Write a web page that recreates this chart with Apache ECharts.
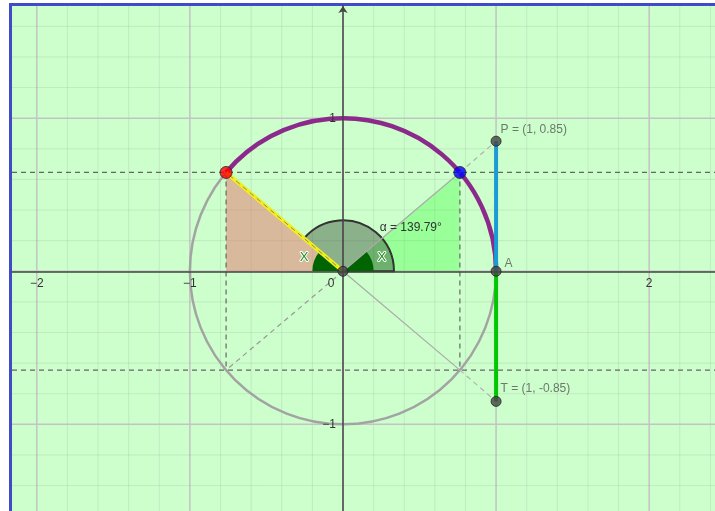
<!DOCTYPE html>
<html>
<head>
<meta charset="utf-8">
<script src="https://cdn.jsdelivr.net/npm/echarts@6/dist/echarts.min.js"></script>
<style>
html, body { margin: 0; padding: 0; background: #fff; }
#main { width: 715px; height: 511px; }
</style>
</head>
<body>
<div id="main"></div>
<script>
// 角 α（度）
var alphaDeg = 139.79;
// 点：O, A, P, T, 红点, 蓝点
var pointNames = ['O', 'A', 'P', 'T', 'M', 'N'];
var pointX = [0, 1, 1, 1, -0.7636, 0.7636];
var pointY = [0, 0, 0.85, -0.85, 0.6456, 0.6456];
var pointLabels = ['', 'A', 'P = (1, 0.85)', 'T = (1, -0.85)', '', ''];
// 坐标轴刻度
var xTickValues = [-2, -1, 0, 2];
var xTickLabels = ['\u22122', '\u22121', '0', '2'];
var yTickValues = [1, -1];
var yTickLabels = ['1', '\u22121'];

// 视图范围（1 单位 = 153 像素）
var xMin = -2.162, xMax = 2.43, yMin = -1.566, yMax = 1.733;
var minorStep = 0.2;

var pointColors = ['#444', '#444', '#444', '#444', '#ff0000', '#0000ff'];
var pointSizes = [10, 10, 10, 10, 12, 12];
var font = 'Liberation Sans, Arial, sans-serif';

var chart = echarts.init(document.getElementById('main'));

function pt(i) { return [pointX[i], pointY[i]]; }
var O = pt(0), A = pt(1), P = pt(2), T = pt(3), M = pt(4), N = pt(5);
var M2 = [M[0], -M[1]], N2 = [N[0], -N[1]];
var a = alphaDeg * Math.PI / 180;

function seg(api, p, q, style) {
    var p1 = api.coord(p), p2 = api.coord(q);
    return { type: 'line', shape: { x1: p1[0], y1: p1[1], x2: p2[0], y2: p2[1] }, style: style };
}
function poly(api, pts, style) {
    return { type: 'polygon', shape: { points: pts.map(function (p) { return api.coord(p); }) }, style: style };
}

// 网格
function renderGrid(params, api) {
    var children = [];
    var major = { stroke: '#c3c3c3', lineWidth: 1.5 };
    var minor = { stroke: 'rgba(150,150,150,0.2)', lineWidth: 1 };
    for (var i = Math.ceil(xMin / minorStep); i * minorStep <= xMax; i++) {
        var v = i * minorStep;
        children.push(seg(api, [v, yMin], [v, yMax], i % 5 === 0 ? major : minor));
    }
    for (var j = Math.ceil(yMin / minorStep); j * minorStep <= yMax; j++) {
        var w = j * minorStep;
        children.push(seg(api, [xMin, w], [xMax, w], j % 5 === 0 ? major : minor));
    }
    return { type: 'group', children: children };
}

// 三角形和虚线
function renderFills(params, api) {
    var dash = { stroke: '#666', lineWidth: 1.2, lineDash: [5, 4] };
    return { type: 'group', children: [
        poly(api, [O, [M[0], 0], M], { fill: 'rgba(230,115,106,0.5)' }),
        poly(api, [O, [N[0], 0], N], { fill: 'rgba(0,255,0,0.25)' }),
        seg(api, [xMin, M[1]], [xMax, M[1]], dash),
        seg(api, [xMin, -M[1]], [xMax, -M[1]], dash),
        seg(api, M, M2, dash),
        seg(api, N, N2, dash)
    ] };
}

// 角的扇形
function renderAngles(params, api) {
    var c = api.coord(O), u = api.size([1, 1])[0];
    return { type: 'group', children: [
        { type: 'sector', shape: { cx: c[0], cy: c[1], r: 0.333 * u, r0: 0, startAngle: -a, endAngle: 0, clockwise: true },
          style: { fill: 'rgba(40,60,40,0.4)', stroke: '#333', lineWidth: 2 } },
        { type: 'sector', shape: { cx: c[0], cy: c[1], r: 0.2 * u, r0: 0, startAngle: -Math.PI, endAngle: -a, clockwise: true },
          style: { fill: '#006400' } },
        { type: 'sector', shape: { cx: c[0], cy: c[1], r: 0.2 * u, r0: 0, startAngle: -(Math.PI - a), endAngle: 0, clockwise: true },
          style: { fill: '#006400' } }
    ] };
}

// 单位圆和线段
function renderCircle(params, api) {
    var c = api.coord(O), u = api.size([1, 1])[0];
    return { type: 'group', children: [
        { type: 'circle', shape: { cx: c[0], cy: c[1], r: u }, style: { fill: null, stroke: '#a3a3a3', lineWidth: 2.5 } },
        { type: 'arc', shape: { cx: c[0], cy: c[1], r: u, startAngle: -a, endAngle: 0, clockwise: true },
          style: { fill: null, stroke: '#8c2a8c', lineWidth: 4.5 } },
        seg(api, O, M, { stroke: '#f2ee18', lineWidth: 4 }),
        seg(api, O, M, { stroke: '#888', lineWidth: 1, lineDash: [5, 4] }),
        seg(api, O, M2, { stroke: '#999', lineWidth: 1.2, lineDash: [5, 4] }),
        seg(api, O, N, { stroke: '#aaa', lineWidth: 1.2 }),
        seg(api, N, P, { stroke: '#b0b0b0', lineWidth: 1.2, lineDash: [5, 4] }),
        seg(api, O, N2, { stroke: '#aaa', lineWidth: 1.2 }),
        seg(api, N2, T, { stroke: '#b0b0b0', lineWidth: 1.2, lineDash: [5, 4] }),
        seg(api, A, P, { stroke: '#1a9bd5', lineWidth: 4 }),
        seg(api, A, T, { stroke: '#00c800', lineWidth: 4 })
    ] };
}

// 文字
function renderText(params, api) {
    var children = [];
    var i, p;
    for (i = 0; i < xTickValues.length; i++) {
        p = api.coord([xTickValues[i], 0]);
        var dx = xTickValues[i] === 0 ? -12 : 0;
        children.push({ type: 'text', x: p[0] + dx, y: p[1] + 12,
            style: { text: xTickLabels[i], font: '12px ' + font, fill: '#333', align: 'center', verticalAlign: 'middle' } });
    }
    for (i = 0; i < yTickValues.length; i++) {
        p = api.coord([0, yTickValues[i]]);
        children.push({ type: 'text', x: p[0] - 7, y: p[1],
            style: { text: yTickLabels[i], font: '12px ' + font, fill: '#333', align: 'right', verticalAlign: 'middle' } });
    }
    var c = api.coord(O), u = api.size([1, 1])[0];
    var mids = [(Math.PI + a) / 2, (Math.PI - a) / 2];
    mids.forEach(function (m) {
        children.push({ type: 'text', x: c[0] + 0.27 * u * Math.cos(m), y: c[1] - 0.27 * u * Math.sin(m),
            style: { text: 'X', font: '13px ' + font, fill: '#1f8f1f', stroke: '#fff', lineWidth: 2,
                     align: 'center', verticalAlign: 'middle' } });
    });
    children.push({ type: 'text', x: c[0] + 0.24 * u, y: c[1] - 0.283 * u,
        style: { text: '\u03b1 = ' + alphaDeg.toFixed(2) + '\u00b0', font: '12px ' + font, fill: '#333',
                 align: 'left', verticalAlign: 'middle' } });
    return { type: 'group', children: children };
}

function custom(fn, z) {
    return { type: 'custom', coordinateSystem: 'cartesian2d', renderItem: fn, data: [[0, 0]], z: z, silent: true, clip: true };
}

var labelOffsets = { A: [3, -8], P: [-1, -11], T: [-1, -13] };

var option = {
    backgroundColor: '#fff',
    animation: false,
    grid: { left: 12, right: 0, top: 6, bottom: 0, show: true, backgroundColor: '#ccffcc', borderWidth: 0 },
    xAxis: {
        type: 'value', min: xMin, max: xMax, z: 5,
        axisLine: { onZero: true, lineStyle: { color: '#444', width: 1.5 } },
        axisTick: { show: false }, axisLabel: { show: false }, splitLine: { show: false }
    },
    yAxis: {
        type: 'value', min: yMin, max: yMax, z: 5,
        axisLine: { onZero: true, symbol: ['none', 'arrow'], symbolSize: [7, 7], lineStyle: { color: '#444', width: 1.5 } },
        axisTick: { show: false }, axisLabel: { show: false }, splitLine: { show: false }
    },
    graphic: [
        { type: 'rect', shape: { x: 9, y: 3, width: 706, height: 3 }, style: { fill: '#3f4bc8' } },
        { type: 'rect', shape: { x: 9, y: 3, width: 3, height: 508 }, style: { fill: '#3f4bc8' } }
    ],
    series: [
        custom(renderGrid, 1),
        custom(renderFills, 2),
        custom(renderAngles, 3),
        custom(renderCircle, 4),
        {
            type: 'scatter', z: 10,
            data: pointX.map(function (x, i) {
                var name = pointNames[i];
                return {
                    value: [x, pointY[i]],
                    symbolSize: pointSizes[i],
                    itemStyle: { color: pointColors[i], borderColor: '#222', borderWidth: 1 },
                    label: {
                        show: pointLabels[i] !== '',
                        formatter: pointLabels[i],
                        position: 'right', distance: 0,
                        offset: labelOffsets[name] || [0, 0],
                        color: '#555', fontSize: 12, fontFamily: font
                    }
                };
            })
        },
        custom(renderText, 11)
    ]
};

chart.setOption(option);
</script>
</body>
</html>
